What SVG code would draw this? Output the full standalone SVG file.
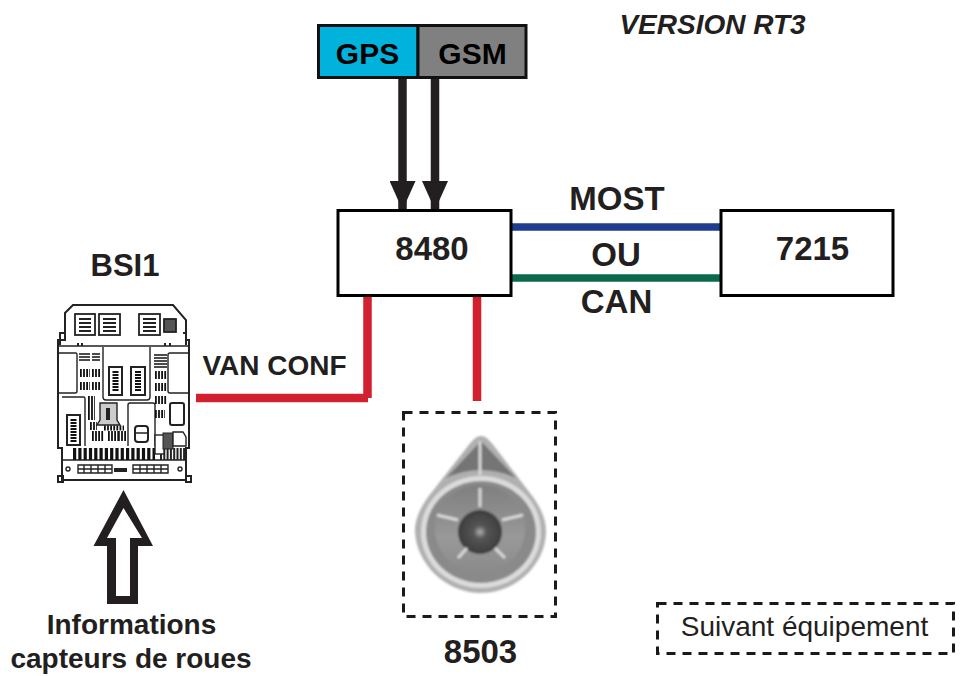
<svg xmlns="http://www.w3.org/2000/svg" width="962" height="676" viewBox="0 0 962 676">
<defs>
<style>
text{font-family:"Liberation Sans",Arial,sans-serif;fill:#231f20}
.b{font-weight:700;font-size:33px}
.m{font-weight:700;font-size:30px}
.s{font-weight:700;font-size:28px}
.box{fill:#fff;stroke:#000;stroke-width:3}
.d{fill:none;stroke:#1a1a1a;stroke-width:3;stroke-dasharray:9 7}
.l{fill:none;stroke:#222;stroke-width:1.4}
.p{fill:#fff;stroke:#222;stroke-width:1.4}
.v{fill:none;stroke:#111;stroke-dasharray:1.8 1.3}
.hz{fill:none;stroke:#111;stroke-dasharray:1.5 1.2}
</style>
<marker id="ah" markerUnits="userSpaceOnUse" markerWidth="30" markerHeight="26" refX="29" refY="13" orient="auto"><path d="M0 0L29 13L0 26Z" fill="#231f20"/></marker>
<radialGradient id="g1"><stop offset="0" stop-color="#b0b0b0"/><stop offset=".3" stop-color="#555"/><stop offset="1" stop-color="#3d3d3d"/></radialGradient>
<linearGradient id="g2" x1="0" y1="0" x2="0" y2="1"><stop offset="0" stop-color="#7f7f7f"/><stop offset=".6" stop-color="#999"/><stop offset="1" stop-color="#8a8a8a"/></linearGradient>
<filter id="soft" x="-10%" y="-10%" width="120%" height="120%"><feGaussianBlur stdDeviation="0.8"/></filter>
</defs>
<rect width="962" height="676" fill="#fff"/>
<g id="connectors">
<path d="M402.500 78V210" stroke="#231f20" stroke-width="8.500" fill="none" marker-end="url(#ah)"/>
<path d="M435 78V210" stroke="#231f20" stroke-width="8.500" fill="none" marker-end="url(#ah)"/>
<path d="M512 227H721" stroke="#1f3d8f" stroke-width="7.500" fill="none"/>
<path d="M512 278H721" stroke="#0b6a4c" stroke-width="7.500" fill="none"/>
<path d="M367.500 296V398M196 398H368" stroke="#d2202f" stroke-width="8.500" fill="none"/>
<path d="M477 296V401" stroke="#d2202f" stroke-width="8.500" fill="none"/>
<path id="up-arrow" fill-rule="evenodd" fill="#231f20" d="M123.500 490L153 546H138V604H107V546H93.500ZM123.500 508L107 538H116V596H130V538H142Z"/>
</g>
<g id="n-gps"><rect x="318.500" y="25.500" width="99.500" height="52" fill="#00b2dc" stroke="#111" stroke-width="3"/><text class="m" x="367.500" y="64" text-anchor="middle" style="fill:#000">GPS</text></g>
<g id="n-gsm"><rect x="418" y="25.500" width="108" height="52" fill="#808080" stroke="#111" stroke-width="3"/><text class="m" x="472.500" y="64" text-anchor="middle" style="fill:#000">GSM</text></g>
<g id="n-8480"><rect class="box" x="338" y="210.500" width="173" height="85"/><text class="b" x="432" y="260" text-anchor="middle">8480</text></g>
<g id="n-7215"><rect class="box" x="721" y="210.500" width="172" height="85"/><text class="b" x="812.500" y="260" text-anchor="middle">7215</text></g>
<g id="labels">
<text x="712.500" y="34" text-anchor="middle" style="font-weight:700;font-style:italic;font-size:28px">VERSION RT3</text>
<text class="b" x="617" y="210" text-anchor="middle">MOST</text>
<text class="b" x="616" y="266" text-anchor="middle">OU</text>
<text class="b" x="616.500" y="313" text-anchor="middle">CAN</text>
<text class="s" x="274.500" y="375" text-anchor="middle">VAN CONF</text>
</g>
<g id="n-bsi1">
<text class="b" x="125" y="276" text-anchor="middle" style="font-size:31px">BSI1</text>
<path class="l" style="stroke-width:2" d="M73 305H173L186 320V340H189V448H186V480H62V448H58V340H65V313Z"/>
<path class="l" d="M58 346H189M103 347V397Q103 400 106 400H147Q150 400 150 397V347M62 460H186"/>
<path class="l" d="M58 353H76Q77 353 77 355V391Q77 393 75 393H58M188 353H170Q168 353 168 355V391Q168 393 170 393H188M62 397H84Q85 397 85 399V446M128 446V405Q128 403 130 403H153Q155 403 155 405V446"/>
<g class="l" style="stroke-width:1.800"><rect x="75" y="314" width="20" height="21"/><rect x="99" y="314" width="21" height="21"/><rect x="139" y="314" width="21" height="21"/><rect x="164" y="319" width="12" height="13" style="fill:#555"/></g>
<path d="M79 319H91M79 323H91M79 327H91M79 331H91M103 319H116M103 323H116M103 327H116M103 331H116M143 319H156M143 323H156M143 327H156M143 331H156" stroke="#222" stroke-width="2" fill="none"/>
<path class="hz" style="stroke:#111;stroke-dasharray:none;stroke-width:1.500" d="M79 354H90M79 357H90M79 360H90M92 354H100M92 357H100M92 360H100M154 355H167M154 358H167M154 361H167M154 364H167M154 367H167"/>
<path class="v" style="stroke-width:8" d="M80 373H90M92 373H100M80 386H90M92 386H100M155 375H167M155 387H167M155 400H167M155 414H165M88 400H95M88 408H95M88 416H95M90 426H97"/>
<path class="v" style="stroke-width:10" d="M92 436H104M108 436H120M118 436H127"/>
<g class="p" style="stroke-width:2"><rect x="109" y="367" width="13" height="28"/><rect x="131" y="367" width="14" height="28"/><rect x="67" y="415" width="13" height="30"/><rect x="135" y="426" width="13" height="16" rx="3"/><rect x="170" y="403" width="14" height="22" rx="2"/></g>
<path d="M115.500 371V392M138 371V392M73.500 419V442" stroke="#111" stroke-width="6" stroke-dasharray="2 1"/>
<path d="M136 433H147" stroke="#222" stroke-width="1.500"/>
<path d="M100 403H117V420L120 425H97L100 420Z" fill="#ccc" stroke="#222" stroke-width="1.400"/>
<rect x="106" y="408" width="4" height="12" fill="#222"/>
<path d="M104 428H124" class="v" style="stroke-width:5"/>
<path d="M73 454H155" stroke="#111" stroke-width="12" stroke-dasharray="3.200 2.100"/>
<path d="M160 454H185" stroke="#222" stroke-width="12" stroke-dasharray="2 1.300"/>
<rect x="155" y="435" width="9" height="19" class="p"/>
<rect x="163" y="433" width="10" height="16" fill="#555" stroke="#222"/>
<path d="M173 432H183L186 437V446H173Z" class="p"/>
<path d="M78 465H112V473H78ZM133 465H168V473H133ZM84 465V473M91 465V473M98 465V473M105 465V473M140 465V473M147 465V473M154 465V473M161 465V473M78 469H112M133 469H168" class="l"/>
<path d="M114 470H127" stroke="#222" stroke-width="4"/>
<circle cx="68" cy="469" r="2" class="l"/><circle cx="180" cy="469" r="2" class="l"/>
<path d="M58 476H63V482H58ZM186 476H191V482H186ZM90 480H100M147 480H157" stroke="#222" stroke-width="2" fill="none"/>
<path d="M65 333H60V345M183 333H186V345M78 343V346M82 343V346M165 343V346M170 343V346" class="l" style="stroke-width:2"/>
</g>
<g id="n-8503">
<rect class="d" x="403.500" y="412.500" width="152" height="204"/>
<g filter="url(#soft)">
<path d="M481 436C476 436 473 440 468 446L428 497C420 508 415 520 415 531C416 564 446 593 481 593C516 593 546 564 546 531C546 520 541 508 533 497L494 446C489 440 486 436 481 436Z" fill="#b0b0b0"/>
<ellipse cx="481" cy="532" rx="60" ry="56" fill="#dcdcdc"/>
<ellipse cx="481" cy="532" rx="55" ry="51" fill="#8a8a8a"/>
<path d="M481 441L446 478Q481 462 516 478Z" fill="#757575"/>
<ellipse cx="480" cy="529" rx="45" ry="44" fill="url(#g2)"/>
<circle cx="480" cy="532" r="22" fill="url(#g1)"/>
<path d="M480 441V475M480 488V507M437 515L458 520M502 520L523 515M467 548L458 558M495 548L505 558" stroke="#d8d8d8" stroke-width="3" fill="none"/>
</g>
</g>
<g id="captions">
<text class="s" x="131.500" y="634" text-anchor="middle">Informations</text>
<text class="s" x="131" y="668" text-anchor="middle">capteurs de roues</text>
<text class="b" x="480.500" y="663" text-anchor="middle">8503</text>
</g>
<g id="n-legend"><rect class="d" x="657.500" y="603.500" width="296" height="50"/><text x="804.500" y="636" text-anchor="middle" style="font-size:28px">Suivant équipement</text></g>
</svg>
